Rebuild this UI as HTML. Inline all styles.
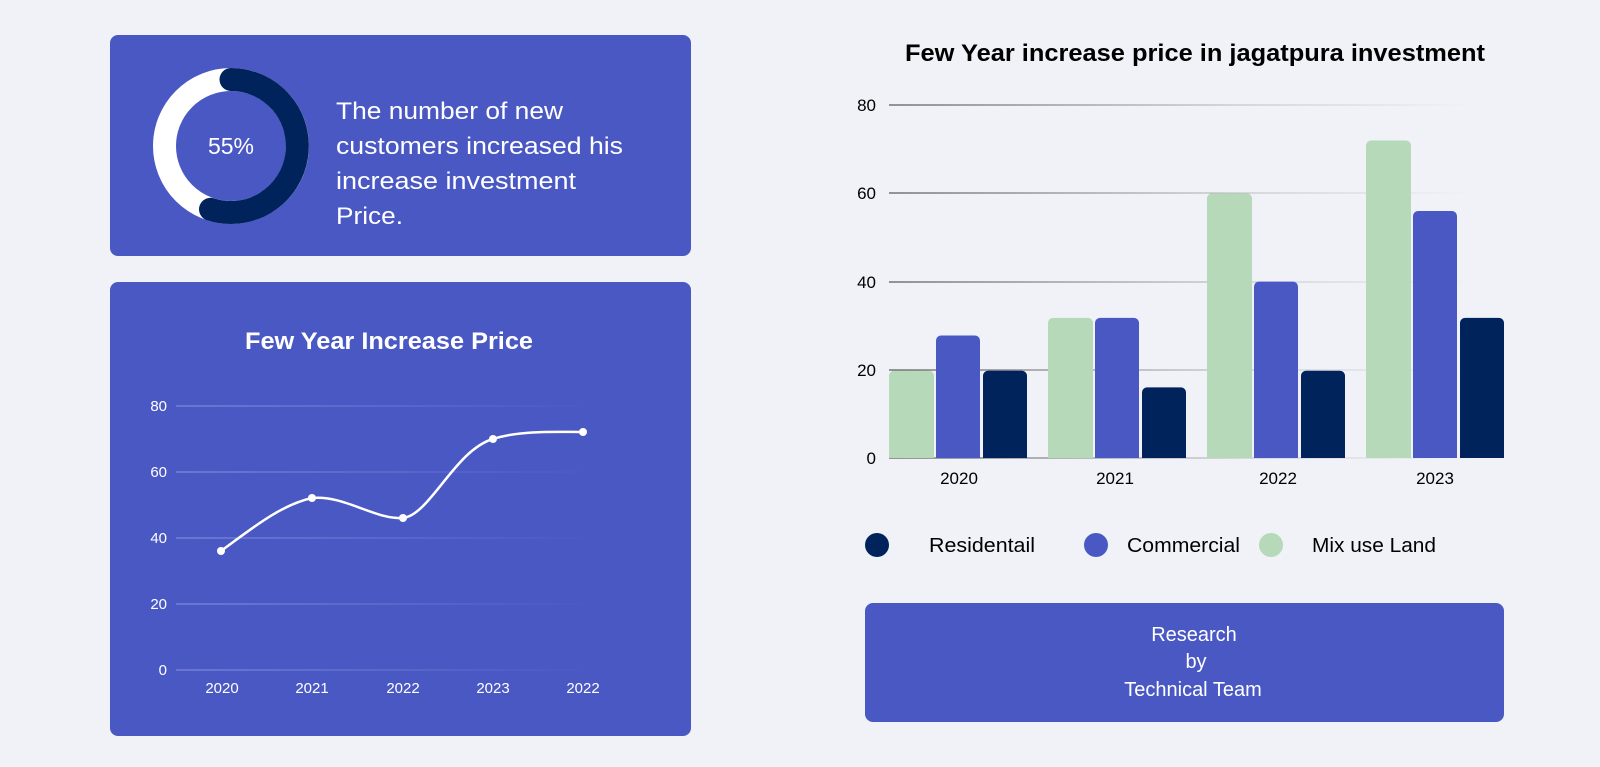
<!DOCTYPE html>
<html><head><style>
body{margin:0;background:#f0f2f8;}
svg{display:block}
</style></head><body>
<svg width="1600" height="767" viewBox="0 0 1600 767" xmlns="http://www.w3.org/2000/svg" font-family="Liberation Sans, sans-serif">
<defs>
<linearGradient id="gl" gradientUnits="userSpaceOnUse" x1="176" y1="0" x2="597" y2="0"><stop offset="0" stop-color="#8b95e0"/><stop offset="0.5" stop-color="#6a76d2"/><stop offset="1" stop-color="#4a58c4"/></linearGradient>
<linearGradient id="gr" gradientUnits="userSpaceOnUse" x1="889" y1="0" x2="1473" y2="0"><stop offset="0" stop-color="#333"/><stop offset="0.6" stop-color="#bbb"/><stop offset="1" stop-color="#f0f2f8"/></linearGradient>
</defs>
<rect width="1600" height="767" fill="#f0f2f8"/>
<!-- card 1 -->
<rect x="110" y="35" width="581" height="221" rx="8" fill="#4a58c4"/>
<circle cx="231" cy="146" r="66.5" fill="none" stroke="#fff" stroke-width="23"/>
<path d="M231 79.5 A66.5 66.5 0 1 1 210.5 209.3" fill="none" stroke="#00235c" stroke-width="23" stroke-linecap="round"/>
<text x="231" y="154" font-size="23" fill="#fff" text-anchor="middle">55%</text>
<g font-size="24" fill="#fff">
<text x="336" y="119" textLength="227" lengthAdjust="spacingAndGlyphs">The number of new</text>
<text x="336" y="154" textLength="287" lengthAdjust="spacingAndGlyphs">customers increased his</text>
<text x="336" y="189" textLength="240" lengthAdjust="spacingAndGlyphs">increase investment</text>
<text x="336" y="224" textLength="67" lengthAdjust="spacingAndGlyphs">Price.</text>
</g>
<!-- card 2 -->
<rect x="110" y="282" width="581" height="454" rx="8" fill="#4a58c4"/>
<text x="389" y="349" font-size="24" font-weight="bold" fill="#fff" text-anchor="middle" textLength="288" lengthAdjust="spacingAndGlyphs">Few Year Increase Price</text>
<g stroke="url(#gl)" stroke-width="1">
<line x1="176" y1="406" x2="597" y2="406"/><line x1="176" y1="472" x2="597" y2="472"/><line x1="176" y1="538" x2="597" y2="538"/><line x1="176" y1="604" x2="597" y2="604"/><line x1="176" y1="670" x2="597" y2="670"/>
</g>
<g font-size="15" fill="#fff" text-anchor="end">
<text x="167" y="411">80</text><text x="167" y="477">60</text><text x="167" y="543">40</text><text x="167" y="609">20</text><text x="167" y="675">0</text>
</g>
<g font-size="15" fill="#fff" text-anchor="middle">
<text x="222" y="693">2020</text><text x="312" y="693">2021</text><text x="403" y="693">2022</text><text x="493" y="693">2023</text><text x="583" y="693">2022</text>
</g>
<path d="M221 551 C250 530 280 505 312 498 C345 495 375 520 403 518 C430 515 455 450 493 439 C520 430 560 432 583 432" fill="none" stroke="#fff" stroke-width="2.5"/>
<g fill="#fff"><circle cx="221" cy="551" r="4"/><circle cx="312" cy="498" r="4"/><circle cx="403" cy="518" r="4"/><circle cx="493" cy="439" r="4"/><circle cx="583" cy="432" r="4"/></g>
<!-- right chart -->
<text x="1195" y="61" font-size="24" font-weight="bold" fill="#000" text-anchor="middle" textLength="580" lengthAdjust="spacingAndGlyphs">Few Year increase price in jagatpura investment</text>
<g stroke="url(#gr)" stroke-width="1">
<line x1="889" y1="105" x2="1473" y2="105"/><line x1="889" y1="193" x2="1473" y2="193"/><line x1="889" y1="282" x2="1473" y2="282"/><line x1="889" y1="370" x2="1473" y2="370"/><line x1="889" y1="458" x2="1473" y2="458"/>
</g>
<g font-size="17" fill="#000" text-anchor="end">
<text x="876" y="111">80</text><text x="876" y="199">60</text><text x="876" y="288">40</text><text x="876" y="376">20</text><text x="876" y="464">0</text>
</g>
<g>
<path d="M889 458V375.8a5 5 0 0 1 5-5h35a5 5 0 0 1 5 5V458z" fill="#b5d9b9"/>
<path d="M936 458V340.5a5 5 0 0 1 5-5h34a5 5 0 0 1 5 5V458z" fill="#4a58c4"/>
<path d="M983 458V375.8a5 5 0 0 1 5-5h34a5 5 0 0 1 5 5V458z" fill="#00235c"/>
<path d="M1048 458V322.9a5 5 0 0 1 5-5h35a5 5 0 0 1 5 5V458z" fill="#b5d9b9"/>
<path d="M1095 458V322.9a5 5 0 0 1 5-5h34a5 5 0 0 1 5 5V458z" fill="#4a58c4"/>
<path d="M1142 458V392.4a5 5 0 0 1 5-5h34a5 5 0 0 1 5 5V458z" fill="#00235c"/>
<path d="M1207 458V198.4a5 5 0 0 1 5-5h35a5 5 0 0 1 5 5V458z" fill="#b5d9b9"/>
<path d="M1254 458V286.6a5 5 0 0 1 5-5h34a5 5 0 0 1 5 5V458z" fill="#4a58c4"/>
<path d="M1301 458V375.8a5 5 0 0 1 5-5h34a5 5 0 0 1 5 5V458z" fill="#00235c"/>
<path d="M1366 458V145.5a5 5 0 0 1 5-5h35a5 5 0 0 1 5 5V458z" fill="#b5d9b9"/>
<path d="M1413 458V216a5 5 0 0 1 5-5h34a5 5 0 0 1 5 5V458z" fill="#4a58c4"/>
<path d="M1460 458V322.9a5 5 0 0 1 5-5h34a5 5 0 0 1 5 5V458z" fill="#00235c"/>
</g>
<g font-size="17" fill="#000" text-anchor="middle">
<text x="959" y="484">2020</text><text x="1115" y="484">2021</text><text x="1278" y="484">2022</text><text x="1435" y="484">2023</text>
</g>
<circle cx="877" cy="545" r="12" fill="#00235c"/>
<circle cx="1096" cy="545" r="12" fill="#4a58c4"/>
<circle cx="1271" cy="545" r="12" fill="#b5d9b9"/>
<g font-size="20" fill="#000">
<text x="929" y="552" textLength="106" lengthAdjust="spacingAndGlyphs">Residentail</text><text x="1127" y="552" textLength="113" lengthAdjust="spacingAndGlyphs">Commercial</text><text x="1312" y="552" textLength="124" lengthAdjust="spacingAndGlyphs">Mix use Land</text>
</g>
<rect x="865" y="603" width="639" height="119" rx="8" fill="#4a58c4"/>
<g font-size="20" fill="#fff" text-anchor="middle">
<text x="1194" y="641">Research</text><text x="1196" y="668">by</text><text x="1193" y="696">Technical Team</text>
</g>
</svg>
</body></html>
